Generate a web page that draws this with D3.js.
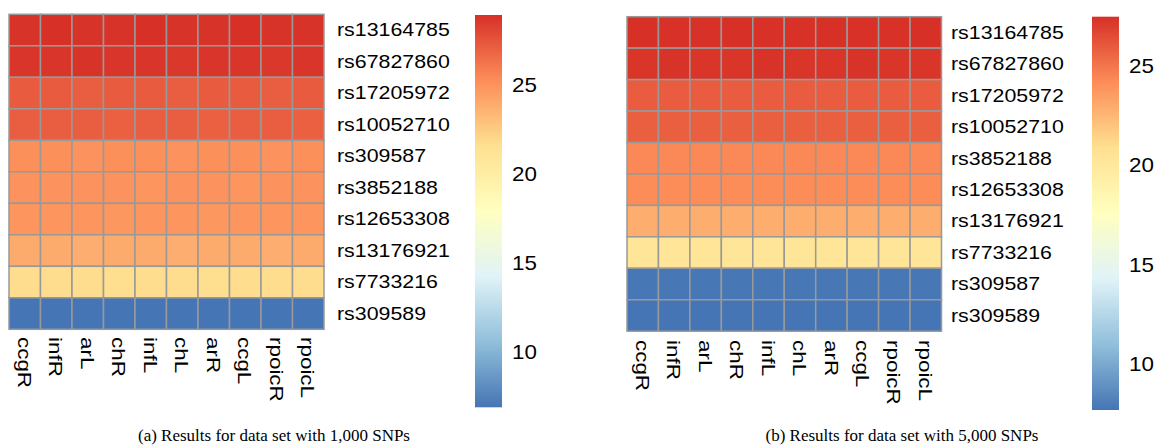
<!DOCTYPE html>
<html>
<head>
<meta charset="utf-8">
<script src="https://cdn.jsdelivr.net/npm/d3@7"></script>
<style>
  html, body { margin: 0; padding: 0; background: #fff; }
  svg { display: block; }
</style>
</head>
<body>
<svg id="chart" width="1158" height="446"></svg>
<script>
// ---------- DATA ----------
const columns = ["ccgR", "infR", "arL", "chR", "infL", "chL", "arR", "ccgL", "rpoicR", "rpoicL"];

const rowsA = ["rs13164785", "rs67827860", "rs17205972", "rs10052710", "rs309587",
               "rs3852188", "rs12653308", "rs13176921", "rs7733216", "rs309589"];
const valuesA = [
  [28.8, 28.9, 28.8, 28.8, 28.9, 28.8, 28.8, 28.9, 28.8, 28.8],
  [28.7, 28.7, 28.8, 28.7, 28.7, 28.6, 28.7, 28.7, 28.6, 28.7],
  [27.2, 27.2, 27.1, 27.2, 27.2, 27.1, 27.2, 27.2, 27.1, 27.2],
  [27.1, 27.1, 27.1, 27.0, 27.1, 27.1, 27.0, 27.1, 27.1, 27.0],
  [25.1, 25.1, 25.0, 25.1, 25.1, 25.0, 25.1, 25.1, 25.0, 25.1],
  [25.0, 25.0, 25.0, 25.0, 24.9, 25.0, 25.0, 24.9, 25.0, 25.0],
  [24.9, 24.9, 24.9, 24.8, 24.9, 24.9, 24.8, 24.9, 24.9, 24.9],
  [23.9, 23.9, 23.8, 23.9, 23.9, 23.8, 23.9, 23.9, 23.8, 23.9],
  [21.7, 21.7, 21.7, 21.6, 21.7, 21.7, 21.6, 21.7, 21.7, 21.7],
  [6.9, 6.9, 6.9, 6.9, 6.9, 6.9, 6.9, 6.9, 6.9, 6.9]
];

const rowsB = ["rs13164785", "rs67827860", "rs17205972", "rs10052710", "rs3852188",
               "rs12653308", "rs13176921", "rs7733216", "rs309587", "rs309589"];
const valuesB = [
  [27.46, 27.4, 27.4, 27.45, 27.4, 27.4, 27.45, 27.4, 27.4, 27.45],
  [27.3, 27.35, 27.3, 27.3, 27.35, 27.3, 27.3, 27.35, 27.3, 27.3],
  [25.9, 25.9, 25.9, 25.9, 25.9, 25.9, 25.9, 25.9, 25.9, 25.9],
  [25.8, 25.8, 25.8, 25.8, 25.8, 25.8, 25.8, 25.8, 25.8, 25.8],
  [24.3, 24.3, 24.3, 24.3, 24.3, 24.3, 24.3, 24.3, 24.3, 24.3],
  [24.2, 24.2, 24.2, 24.2, 24.2, 24.2, 24.2, 24.2, 24.2, 24.2],
  [22.9, 22.9, 22.9, 22.9, 22.9, 22.9, 22.9, 22.9, 22.9, 22.9],
  [20.3, 20.3, 20.3, 20.3, 20.3, 20.3, 20.3, 20.3, 20.3, 20.3],
  [7.8, 7.8, 7.8, 7.8, 7.8, 7.8, 7.8, 7.8, 7.8, 7.8],
  [7.69, 7.7, 7.69, 7.7, 7.69, 7.7, 7.69, 7.7, 7.69, 7.7]
];

const legendTicks = [10, 15, 20, 25];
const palette = ["#4575B4", "#91BFDB", "#E0F3F8", "#FFFFBF", "#FEE090", "#FC8D59", "#D73027"];
const captions = ["(a) Results for data set with 1,000 SNPs", "(b) Results for data set with 5,000 SNPs"];

// ---------- DRAW ----------
const svg = d3.select("#chart");
const defs = svg.append("defs");

function panel(cfg) {
  const { rows, values, x0, y0, size, labelX, colLabelY, legX, legW, legTop, legBot, capX, id, caption } = cfg;
  const flat = values.flat();
  const vmin = d3.min(flat), vmax = d3.max(flat);
  const stops = palette.map((c, i) => vmin + i * (vmax - vmin) / (palette.length - 1));
  const color = d3.scaleLinear().domain(stops).range(palette).interpolate(d3.interpolateRgb);

  const x = d3.scaleBand().domain(columns).range([x0, x0 + size]);
  const y = d3.scaleBand().domain(rows).range([y0, y0 + size]);

  const g = svg.append("g");
  const cells = [];
  rows.forEach((r, i) => columns.forEach((c, j) => cells.push({ r, c, v: values[i][j] })));

  g.selectAll("rect.cell").data(cells).join("rect")
    .attr("class", "cell")
    .attr("x", d => x(d.c)).attr("y", d => y(d.r))
    .attr("width", x.bandwidth()).attr("height", y.bandwidth())
    .attr("fill", d => color(d.v))
    .attr("stroke", "#999999").attr("stroke-width", 1.5);

  // row labels
  g.selectAll("text.row").data(rows).join("text")
    .attr("class", "row")
    .attr("transform", d => `translate(${labelX},${y(d) + y.bandwidth() / 2 + 6.3}) scale(1.22,1)`)
    .attr("font-family", "Liberation Sans, Arial, sans-serif")
    .attr("font-size", 17.5).attr("fill", "#000")
    .text(d => d);

  // column labels
  g.selectAll("text.col").data(columns).join("text")
    .attr("class", "col")
    .attr("transform", d => `translate(${x(d) + x.bandwidth() / 2},${colLabelY}) rotate(90) scale(1.18,1)`)
    .attr("dominant-baseline", "central")
    .attr("font-family", "Liberation Sans, Arial, sans-serif")
    .attr("font-size", 19).attr("fill", "#000")
    .text(d => d);

  // legend
  const grad = defs.append("linearGradient").attr("id", id)
    .attr("x1", 0).attr("y1", 1).attr("x2", 0).attr("y2", 0);
  palette.forEach((c, i) => grad.append("stop").attr("offset", i / (palette.length - 1)).attr("stop-color", c));
  const ly = d3.scaleLinear().domain([vmin, vmax]).range([legBot, legTop]);
  g.append("rect").attr("x", legX).attr("y", ly(vmax)).attr("width", legW)
    .attr("height", ly(vmin) - ly(vmax)).attr("fill", `url(#${id})`);
  g.selectAll("text.tick").data(legendTicks).join("text")
    .attr("class", "tick")
    .attr("transform", d => `translate(${legX + legW + 10},${ly(d) + 7.2}) scale(1.12,1)`)
    .attr("font-family", "Liberation Sans, Arial, sans-serif")
    .attr("font-size", 20).attr("fill", "#000")
    .text(d => d);

  // caption
  svg.append("text").attr("x", capX).attr("y", 440.5)
    .attr("text-anchor", "middle")
    .attr("font-family", "Liberation Serif, Times New Roman, serif")
    .attr("font-size", 17).attr("fill", "#000")
    .text(caption);
}

panel({ rows: rowsA, values: valuesA, x0: 9, y0: 14.3, size: 315, labelX: 337, colLabelY: 337,
        legX: 475, legW: 27, legTop: 15, legBot: 407.3, capX: 274, id: "gradA", caption: captions[0] });
panel({ rows: rowsB, values: valuesB, x0: 627, y0: 16.7, size: 314.5, labelX: 951, colLabelY: 340,
        legX: 1092, legW: 27, legTop: 16.7, legBot: 410, capX: 902, id: "gradB", caption: captions[1] });
</script>
</body>
</html>
